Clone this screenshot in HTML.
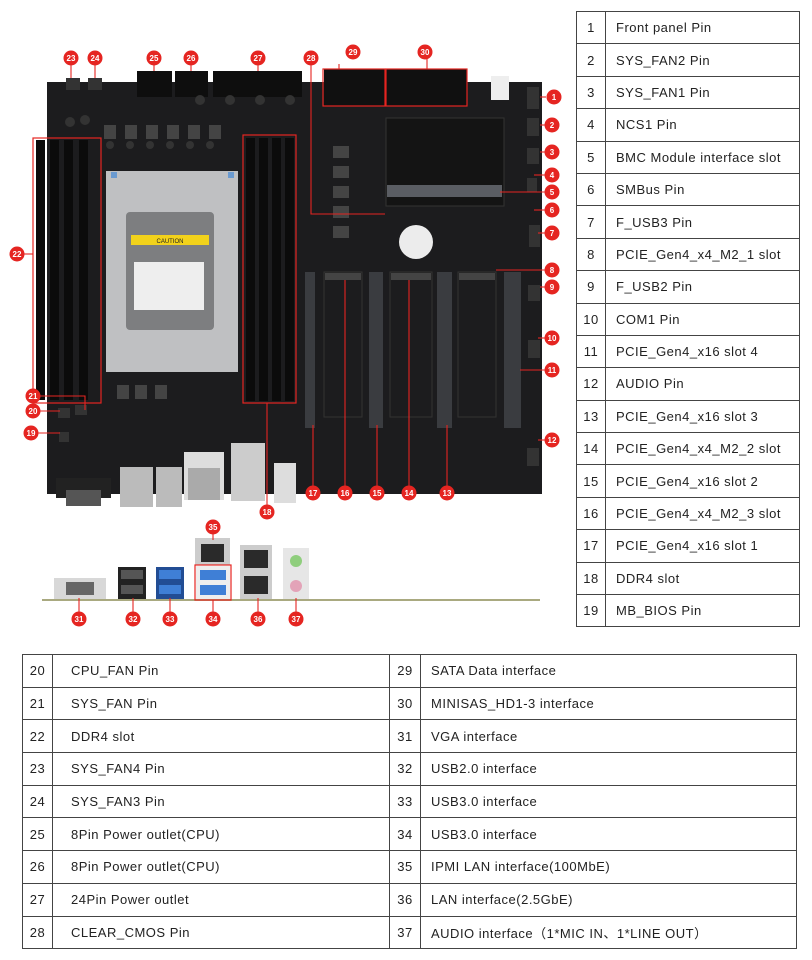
<!DOCTYPE html>
<html><head><meta charset="utf-8"><style>
body{margin:0;background:#fff;width:812px;height:960px;position:relative;overflow:hidden;font-family:"Liberation Sans",sans-serif}
table{border-collapse:collapse;position:absolute;font-size:13px;color:#222;letter-spacing:0.5px}
td{border:1.5px solid #444;padding:0}
#rt tr{height:32.4px}
#bt tr{height:32.7px}
td.n{text-align:center}
td.t{padding-left:10px}
svg{position:absolute;left:0;top:0}
</style></head><body>
<svg width="812" height="960" viewBox="0 0 812 960" font-family="Liberation Sans" >
<rect x="47" y="82" width="495" height="412" fill="#1c1c1e"/>
<rect x="66" y="78" width="14" height="12" fill="#333"/><rect x="88" y="78" width="14" height="12" fill="#333"/>
<rect x="137" y="71" width="35" height="26" fill="#0e0e0e"/><rect x="175" y="71" width="33" height="26" fill="#0e0e0e"/><rect x="213" y="71" width="89" height="26" fill="#0e0e0e"/>
<rect x="324" y="69" width="61" height="37" fill="#101010"/><rect x="386" y="69" width="81" height="37" fill="#101010"/>
<rect x="323" y="69" width="62" height="37" fill="none" stroke="#e52521" stroke-width="1.2"/>
<rect x="386" y="69" width="81" height="37" fill="none" stroke="#e52521" stroke-width="1.2"/>
<rect x="491" y="76" width="18" height="24" fill="#eee"/>
<g fill="#444"><rect x="104" y="125" width="12" height="14"/><rect x="125" y="125" width="12" height="14"/><rect x="146" y="125" width="12" height="14"/><rect x="167" y="125" width="12" height="14"/><rect x="188" y="125" width="12" height="14"/><rect x="209" y="125" width="12" height="14"/>
<rect x="333" y="146" width="16" height="12"/><rect x="333" y="166" width="16" height="12"/><rect x="333" y="186" width="16" height="12"/><rect x="333" y="206" width="16" height="12"/><rect x="333" y="226" width="16" height="12"/>
<rect x="117" y="385" width="12" height="14"/><rect x="135" y="385" width="12" height="14"/><rect x="155" y="385" width="12" height="14"/></g>
<g fill="#333"><circle cx="110" cy="145" r="4"/><circle cx="130" cy="145" r="4"/><circle cx="150" cy="145" r="4"/><circle cx="170" cy="145" r="4"/><circle cx="190" cy="145" r="4"/><circle cx="210" cy="145" r="4"/><circle cx="70" cy="122" r="5"/><circle cx="85" cy="120" r="5"/><circle cx="200" cy="100" r="5"/><circle cx="230" cy="100" r="5"/><circle cx="260" cy="100" r="5"/><circle cx="290" cy="100" r="5"/></g>
<g fill="#0b0b0b"><rect x="36" y="140" width="9" height="260"/><rect x="50" y="140" width="9" height="260"/><rect x="64" y="140" width="9" height="260"/><rect x="79" y="140" width="9" height="260"/></g>
<rect x="33" y="138" width="68" height="265" fill="none" stroke="#e52521" stroke-width="1.2"/>
<rect x="106" y="171" width="132" height="201" fill="#bfc0c2"/>
<rect x="126" y="212" width="88" height="118" fill="#7d7e80" rx="4"/>
<rect x="131" y="235" width="78" height="10" fill="#f2d21b"/>
<text x="170" y="243" font-size="6" text-anchor="middle" fill="#222">CAUTION</text>
<rect x="134" y="262" width="70" height="48" fill="#eee"/>
<rect x="111" y="172" width="6" height="6" fill="#6a9ad0"/><rect x="228" y="172" width="6" height="6" fill="#6a9ad0"/>
<g fill="#0b0b0b"><rect x="246" y="138" width="9" height="263"/><rect x="259" y="138" width="9" height="263"/><rect x="272" y="138" width="9" height="263"/><rect x="285" y="138" width="9" height="263"/></g>
<rect x="243" y="135" width="53" height="268" fill="none" stroke="#e52521" stroke-width="1.2"/>
<rect x="386" y="118" width="118" height="88" fill="#141414" stroke="#333"/>
<rect x="387" y="185" width="115" height="12" fill="#5a5d63"/>
<circle cx="416" cy="242" r="17" fill="#ececec"/>
<g fill="#3a3c40"><rect x="305" y="272" width="10" height="156"/><rect x="369" y="272" width="14" height="156"/><rect x="437" y="272" width="15" height="156"/><rect x="504" y="272" width="17" height="156"/></g>
<g fill="none" stroke="#333"><rect x="324" y="272" width="38" height="145"/><rect x="390" y="272" width="42" height="145"/><rect x="458" y="272" width="38" height="145"/></g>
<g fill="#444"><rect x="325" y="273" width="36" height="7"/><rect x="391" y="273" width="40" height="7"/><rect x="459" y="273" width="36" height="7"/></g>
<g fill="#333"><rect x="527" y="87" width="12" height="22"/><rect x="527" y="118" width="12" height="18"/><rect x="527" y="148" width="12" height="16"/><rect x="527" y="178" width="10" height="14"/><rect x="529" y="225" width="11" height="22"/><rect x="528" y="285" width="12" height="16"/><rect x="528" y="340" width="12" height="18"/><rect x="527" y="448" width="12" height="18"/></g>
<rect x="56" y="478" width="55" height="20" fill="#222"/><rect x="66" y="490" width="35" height="16" fill="#555"/>
<rect x="120" y="467" width="33" height="40" fill="#bbb"/><rect x="156" y="467" width="26" height="40" fill="#bbb"/>
<rect x="184" y="452" width="40" height="48" fill="#ddd"/><rect x="188" y="468" width="32" height="32" fill="#aaa"/>
<rect x="231" y="443" width="34" height="58" fill="#ccc"/>
<rect x="274" y="463" width="22" height="40" fill="#ddd"/>
<g fill="#333"><rect x="58" y="408" width="12" height="10"/><rect x="75" y="405" width="12" height="10"/><rect x="59" y="432" width="10" height="10"/></g>
<g stroke="#e52521" stroke-width="1.1" fill="none">
<polyline points="339,64 339,69"/><polyline points="427,58 427,69"/>
<polyline points="311,64 311,214 385,214"/><polyline points="267,506 267,403"/>
<polyline points="546,97 540,97"/><polyline points="546,125 540,125"/><polyline points="546,152 540,152"/>
<polyline points="546,175 534,175"/><polyline points="546,192 500,192"/><polyline points="546,210 534,210"/>
<polyline points="546,233 538,233"/><polyline points="546,270 496,270"/><polyline points="546,287 540,287"/>
<polyline points="546,338 538,338"/><polyline points="546,370 520,370"/><polyline points="546,440 538,440"/>
<polyline points="313,487 313,425"/><polyline points="345,487 345,280"/><polyline points="377,487 377,425"/>
<polyline points="409,487 409,280"/><polyline points="447,487 447,425"/>
<polyline points="23,254 33,254"/><polyline points="40,396 85,396 85,410"/><polyline points="40,411 60,411"/><polyline points="38,433 60,433"/>
<polyline points="71,64 71,78"/><polyline points="95,64 95,78"/><polyline points="154,64 154,71"/><polyline points="191,64 191,71"/><polyline points="258,64 258,71"/>
</g>
<line x1="42" y1="600" x2="540" y2="600" stroke="#a9a980" stroke-width="2"/>
<rect x="54" y="578" width="52" height="21" fill="#d8d8d8"/><rect x="66" y="582" width="28" height="13" fill="#666"/>
<rect x="118" y="567" width="28" height="32" fill="#222"/><rect x="121" y="570" width="22" height="9" fill="#555"/><rect x="121" y="585" width="22" height="9" fill="#555"/>
<rect x="156" y="567" width="28" height="32" fill="#224d94"/><rect x="159" y="570" width="22" height="9" fill="#3f7fd6"/><rect x="159" y="585" width="22" height="9" fill="#3f7fd6"/>
<rect x="195" y="538" width="35" height="27" fill="#ccc"/><rect x="201" y="544" width="23" height="18" fill="#2a2a2a"/>
<rect x="196" y="566" width="34" height="33" fill="#eee"/><rect x="200" y="570" width="26" height="10" fill="#3f7fd6"/><rect x="200" y="585" width="26" height="10" fill="#3f7fd6"/>
<rect x="195" y="565" width="36" height="35" fill="none" stroke="#e52521" stroke-width="1.2"/>
<rect x="240" y="545" width="32" height="54" fill="#ccc"/><rect x="244" y="550" width="24" height="18" fill="#2a2a2a"/><rect x="244" y="576" width="24" height="18" fill="#2a2a2a"/>
<rect x="283" y="548" width="26" height="51" fill="#e6e6e6"/><circle cx="296" cy="561" r="6" fill="#8fce7d"/><circle cx="296" cy="586" r="6" fill="#e3a3b8"/>
<g stroke="#e52521" stroke-width="1.1"><line x1="213" y1="533" x2="213" y2="540"/><line x1="79" y1="612" x2="79" y2="598"/><line x1="133" y1="612" x2="133" y2="598"/><line x1="170" y1="612" x2="170" y2="598"/><line x1="213" y1="612" x2="213" y2="600"/><line x1="258" y1="612" x2="258" y2="598"/><line x1="296" y1="612" x2="296" y2="598"/></g>
<g fill="#e52521">
<circle cx="554" cy="97" r="7.5"/><circle cx="552" cy="125" r="7.5"/><circle cx="552" cy="152" r="7.5"/><circle cx="552" cy="175" r="7.5"/><circle cx="552" cy="192" r="7.5"/><circle cx="552" cy="210" r="7.5"/><circle cx="552" cy="233" r="7.5"/><circle cx="552" cy="270" r="7.5"/><circle cx="552" cy="287" r="7.5"/><circle cx="552" cy="338" r="7.5"/><circle cx="552" cy="370" r="7.5"/><circle cx="552" cy="440" r="7.5"/>
<circle cx="447" cy="493" r="7.5"/><circle cx="409" cy="493" r="7.5"/><circle cx="377" cy="493" r="7.5"/><circle cx="345" cy="493" r="7.5"/><circle cx="313" cy="493" r="7.5"/><circle cx="267" cy="512" r="7.5"/>
<circle cx="31" cy="433" r="7.5"/><circle cx="33" cy="411" r="7.5"/><circle cx="33" cy="396" r="7.5"/><circle cx="17" cy="254" r="7.5"/>
<circle cx="71" cy="58" r="7.5"/><circle cx="95" cy="58" r="7.5"/><circle cx="154" cy="58" r="7.5"/><circle cx="191" cy="58" r="7.5"/><circle cx="258" cy="58" r="7.5"/><circle cx="311" cy="58" r="7.5"/><circle cx="353" cy="52" r="7.5"/><circle cx="425" cy="52" r="7.5"/>
<circle cx="79" cy="619" r="7.5"/><circle cx="133" cy="619" r="7.5"/><circle cx="170" cy="619" r="7.5"/><circle cx="213" cy="619" r="7.5"/><circle cx="213" cy="527" r="7.5"/><circle cx="258" cy="619" r="7.5"/><circle cx="296" cy="619" r="7.5"/>
</g>
<g font-size="8" font-weight="bold" fill="#fff" text-anchor="middle">
<text x="554" y="100">1</text><text x="552" y="128">2</text><text x="552" y="155">3</text><text x="552" y="178">4</text><text x="552" y="195">5</text><text x="552" y="213">6</text><text x="552" y="236">7</text><text x="552" y="273">8</text><text x="552" y="290">9</text><text x="552" y="341">10</text><text x="552" y="373">11</text><text x="552" y="443">12</text>
<text x="447" y="496">13</text><text x="409" y="496">14</text><text x="377" y="496">15</text><text x="345" y="496">16</text><text x="313" y="496">17</text><text x="267" y="515">18</text>
<text x="31" y="436">19</text><text x="33" y="414">20</text><text x="33" y="399">21</text><text x="17" y="257">22</text>
<text x="71" y="61">23</text><text x="95" y="61">24</text><text x="154" y="61">25</text><text x="191" y="61">26</text><text x="258" y="61">27</text><text x="311" y="61">28</text><text x="353" y="55">29</text><text x="425" y="55">30</text>
<text x="79" y="622">31</text><text x="133" y="622">32</text><text x="170" y="622">33</text><text x="213" y="622">34</text><text x="213" y="530">35</text><text x="258" y="622">36</text><text x="296" y="622">37</text>
</g>
</svg>

<table id="rt" style="left:576px;top:11px;width:224px">
<colgroup><col style="width:29px"><col></colgroup>
<tr><td class="n">1</td><td class="t">Front panel Pin</td></tr>
<tr><td class="n">2</td><td class="t">SYS_FAN2 Pin</td></tr>
<tr><td class="n">3</td><td class="t">SYS_FAN1 Pin</td></tr>
<tr><td class="n">4</td><td class="t">NCS1 Pin</td></tr>
<tr><td class="n">5</td><td class="t">BMC Module interface slot</td></tr>
<tr><td class="n">6</td><td class="t">SMBus Pin</td></tr>
<tr><td class="n">7</td><td class="t">F_USB3 Pin</td></tr>
<tr><td class="n">8</td><td class="t">PCIE_Gen4_x4_M2_1 slot</td></tr>
<tr><td class="n">9</td><td class="t">F_USB2 Pin</td></tr>
<tr><td class="n">10</td><td class="t">COM1 Pin</td></tr>
<tr><td class="n">11</td><td class="t">PCIE_Gen4_x16 slot 4</td></tr>
<tr><td class="n">12</td><td class="t">AUDIO Pin</td></tr>
<tr><td class="n">13</td><td class="t">PCIE_Gen4_x16 slot 3</td></tr>
<tr><td class="n">14</td><td class="t">PCIE_Gen4_x4_M2_2 slot</td></tr>
<tr><td class="n">15</td><td class="t">PCIE_Gen4_x16 slot 2</td></tr>
<tr><td class="n">16</td><td class="t">PCIE_Gen4_x4_M2_3 slot</td></tr>
<tr><td class="n">17</td><td class="t">PCIE_Gen4_x16 slot 1</td></tr>
<tr><td class="n">18</td><td class="t">DDR4 slot</td></tr>
<tr><td class="n">19</td><td class="t">MB_BIOS Pin</td></tr>
</table>

<table id="bt" style="left:22px;top:654px;width:775px">
<colgroup><col style="width:30px"><col style="width:337px"><col style="width:31px"><col></colgroup>
<tr><td class="n">20</td><td class="t" style="padding-left:18px">CPU_FAN Pin</td><td class="n">29</td><td class="t">SATA Data interface</td></tr>
<tr><td class="n">21</td><td class="t" style="padding-left:18px">SYS_FAN Pin</td><td class="n">30</td><td class="t">MINISAS_HD1-3 interface</td></tr>
<tr><td class="n">22</td><td class="t" style="padding-left:18px">DDR4 slot</td><td class="n">31</td><td class="t">VGA interface</td></tr>
<tr><td class="n">23</td><td class="t" style="padding-left:18px">SYS_FAN4 Pin</td><td class="n">32</td><td class="t">USB2.0 interface</td></tr>
<tr><td class="n">24</td><td class="t" style="padding-left:18px">SYS_FAN3 Pin</td><td class="n">33</td><td class="t">USB3.0 interface</td></tr>
<tr><td class="n">25</td><td class="t" style="padding-left:18px">8Pin Power outlet(CPU)</td><td class="n">34</td><td class="t">USB3.0 interface</td></tr>
<tr><td class="n">26</td><td class="t" style="padding-left:18px">8Pin Power outlet(CPU)</td><td class="n">35</td><td class="t">IPMI LAN interface(100MbE)</td></tr>
<tr><td class="n">27</td><td class="t" style="padding-left:18px">24Pin Power outlet</td><td class="n">36</td><td class="t">LAN interface(2.5GbE)</td></tr>
<tr><td class="n">28</td><td class="t" style="padding-left:18px">CLEAR_CMOS Pin</td><td class="n">37</td><td class="t">AUDIO interface（1*MIC IN、1*LINE OUT）</td></tr>
</table>
</body></html>
